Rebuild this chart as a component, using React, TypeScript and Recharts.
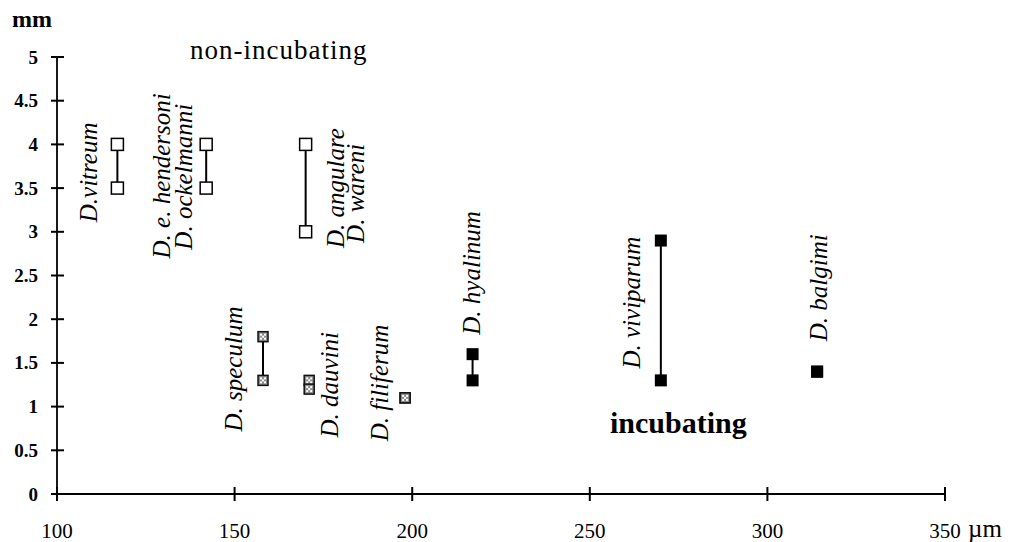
import React from 'react';
import { ScatterChart, Scatter, XAxis, YAxis } from 'recharts';

// egg diameter (µm) vs adult size (mm), ranges per species
const openX = [117, 142, 170];
const openHigh = [4, 4, 4];
const openLow = [3.5, 3.5, 3];

const dottedX = [158, 171, 198];
const dottedHigh = [1.8, 1.3, 1.1];
const dottedLow = [1.3, 1.2, 1.1];

const filledX = [217, 270, 314];
const filledHigh = [1.6, 2.9, 1.4];
const filledLow = [1.3, 1.3, 1.4];

const xTicks = [100, 150, 200, 250, 300, 350];
const yTicks = [0, 0.5, 1, 1.5, 2, 2.5, 3, 3.5, 4, 4.5, 5];

const speciesNames = [
  'D.vitreum', 'D. e. hendersoni', 'D. ockelmanni', 'D. angulare', 'D. wareni',
  'D. speculum', 'D. dauvini', 'D. filiferum', 'D. hyalinum', 'D. viviparum', 'D. balgimi',
];

// where each rotated name sits, in axis units
const labelSpots = [
  [109.0, 3.68], [129.4, 3.64], [135.5, 3.63], [178.4, 3.5], [184.0, 3.44],
  [149.8, 1.43], [176.7, 1.25], [190.9, 1.27], [216.6, 2.53], [261.6, 2.19], [314.5, 2.36],
];

const serif = '"Liberation Serif", "Times New Roman", serif';

const rangeData = (x: number, hi: number, lo: number) => [
  { x, y: hi },
  { x, y: lo },
];

const labelData = speciesNames.map((name, i) => ({ x: labelSpots[i][0], y: labelSpots[i][1], name }));
const yTickMarks = yTicks.map((y) => ({ x: xTicks[0], y }));
const xTickMarks = xTicks.map((x) => ({ x, y: yTicks[0] }));

const OpenSquare = (p: any) => (
  <rect x={p.cx - 6} y={p.cy - 6} width={12} height={12} fill="#fff" stroke="#000" strokeWidth={1.5} />
);

const FilledSquare = (p: any) => (
  <rect x={p.cx - 6} y={p.cy - 6} width={12} height={12} fill="#000" />
);

const DottedSquare = (p: any) => (
  <g>
    <rect x={p.cx - 5} y={p.cy - 5} width={10} height={10} fill="#8a8a8a" stroke="#111" strokeWidth={1.5} />
    <rect x={p.cx - 3} y={p.cy - 3} width={2} height={2} fill="#fff" />
    <rect x={p.cx + 1} y={p.cy - 3} width={2} height={2} fill="#fff" />
    <rect x={p.cx - 1} y={p.cy - 1} width={2} height={2} fill="#fff" />
    <rect x={p.cx - 3} y={p.cy + 1} width={2} height={2} fill="#fff" />
    <rect x={p.cx + 1} y={p.cy + 1} width={2} height={2} fill="#fff" />
  </g>
);

// tick marks that cross the axis lines
const HTickMark = (p: any) => (
  <line x1={p.cx - 6} x2={p.cx + 7} y1={p.cy} y2={p.cy} stroke="#000" strokeWidth={2} />
);
const VTickMark = (p: any) => (
  <line x1={p.cx} x2={p.cx} y1={p.cy - 7} y2={p.cy + 7} stroke="#000" strokeWidth={2} />
);

const NameLabel = (p: any) => (
  <text
    x={p.cx}
    y={p.cy}
    transform={`rotate(-90, ${p.cx}, ${p.cy})`}
    textAnchor="middle"
    dominantBaseline="central"
    fontFamily={serif}
    fontStyle="italic"
    fontSize={25}
    fill="#000"
  >
    {p.payload.name}
  </text>
);

const YTick = (p: any) => (
  <text x={p.x} y={p.y} textAnchor="end" dominantBaseline="central" fontFamily={serif} fontWeight="bold" fontSize={19} fill="#000">
    {p.payload.value}
  </text>
);

const XTick = (p: any) => (
  <text x={p.x} y={p.y} dy="0.71em" textAnchor="middle" fontFamily={serif} fontSize={21} fill="#000">
    {p.payload.value}
  </text>
);

const rangeLine = { stroke: '#000', strokeWidth: 2 };
const axisStyle = { stroke: '#000', strokeWidth: 1.8 };

export default function App() {
  return (
    <div style={{ position: 'absolute', left: 0, top: 0, width: 1014, height: 542, background: '#fff' }}>
      <ScatterChart width={1014} height={542} margin={{ top: 57, right: 69, bottom: 18, left: 17 }}>
        <XAxis
          type="number"
          dataKey="x"
          domain={[100, 350]}
          ticks={xTicks}
          height={30}
          tickSize={6}
          tickMargin={23}
          tickLine={false}
          tick={<XTick />}
          axisLine={axisStyle}
          interval={0}
        />
        <YAxis
          type="number"
          dataKey="y"
          domain={[0, 5]}
          ticks={yTicks}
          width={40}
          tickSize={5}
          tickMargin={14}
          tickLine={false}
          tick={<YTick />}
          axisLine={axisStyle}
          interval={0}
        />
        <Scatter data={yTickMarks} shape={<HTickMark />} isAnimationActive={false} />
        <Scatter data={xTickMarks} shape={<VTickMark />} isAnimationActive={false} />
        {openX.map((x, i) => (
          <Scatter
            key={`o${i}`}
            data={rangeData(x, openHigh[i], openLow[i])}
            line={rangeLine}
            shape={<OpenSquare />}
            isAnimationActive={false}
          />
        ))}
        {dottedX.map((x, i) => (
          <Scatter
            key={`d${i}`}
            data={rangeData(x, dottedHigh[i], dottedLow[i])}
            line={rangeLine}
            shape={<DottedSquare />}
            isAnimationActive={false}
          />
        ))}
        {filledX.map((x, i) => (
          <Scatter
            key={`f${i}`}
            data={rangeData(x, filledHigh[i], filledLow[i])}
            line={rangeLine}
            shape={<FilledSquare />}
            isAnimationActive={false}
          />
        ))}
        <Scatter data={labelData} shape={<NameLabel />} isAnimationActive={false} />
      </ScatterChart>
      <svg width={1014} height={542} style={{ position: 'absolute', left: 0, top: 0, pointerEvents: 'none' }}>
        <text x={12} y={27} fontFamily={serif} fontWeight="bold" fontSize={24} fill="#000">mm</text>
        <text x={190} y={59} fontFamily={serif} fontSize={27} letterSpacing={1} fill="#000">non-incubating</text>
        <text x={610} y={433} fontFamily={serif} fontWeight="bold" fontSize={30} fill="#000">incubating</text>
        <text x={968} y={537} fontFamily={serif} fontSize={25} fill="#000">µm</text>
      </svg>
    </div>
  );
}
